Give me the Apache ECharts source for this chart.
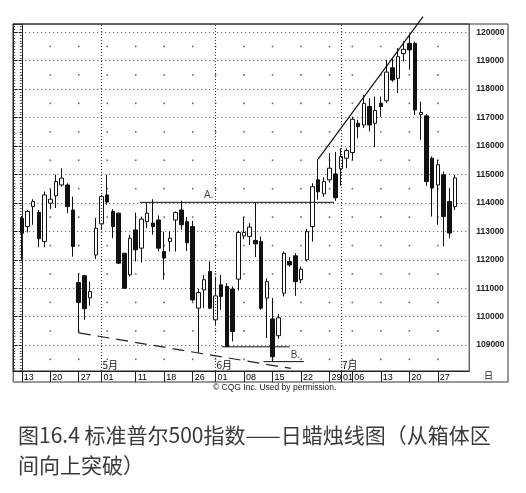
<!DOCTYPE html>
<html><head><meta charset="utf-8">
<script src="https://cdn.jsdelivr.net/npm/echarts@6/dist/echarts.min.js"></script>
<style>html,body{margin:0;padding:0;background:#fff}#c{width:526px;height:493px}</style>
</head><body><div id="c"></div>
<script>
// ---- data ----
const dates = [
 '1998-04-13','1998-04-14','1998-04-15','1998-04-16','1998-04-17','1998-04-20','1998-04-21','1998-04-22','1998-04-23','1998-04-24',
 '1998-04-27','1998-04-28','1998-04-29','1998-04-30','1998-05-01','1998-05-04','1998-05-05','1998-05-06','1998-05-07','1998-05-08',
 '1998-05-11','1998-05-12','1998-05-13','1998-05-14','1998-05-15','1998-05-18','1998-05-19','1998-05-20','1998-05-21','1998-05-22',
 '1998-05-26','1998-05-27','1998-05-28','1998-05-29','1998-06-01','1998-06-02','1998-06-03','1998-06-04','1998-06-05','1998-06-08',
 '1998-06-09','1998-06-10','1998-06-11','1998-06-12','1998-06-15','1998-06-16','1998-06-17','1998-06-18','1998-06-19','1998-06-22',
 '1998-06-23','1998-06-24','1998-06-25','1998-06-26','1998-06-29','1998-06-30','1998-07-01','1998-07-02','1998-07-06','1998-07-07',
 '1998-07-08','1998-07-09','1998-07-10','1998-07-13','1998-07-14','1998-07-15','1998-07-16','1998-07-17','1998-07-20','1998-07-21',
 '1998-07-22','1998-07-23','1998-07-24','1998-07-27','1998-07-28','1998-07-29','1998-07-30'
];
const opens = [
 113460,113170,113870,113670,112640,113990,114250,114630,114630,113750,
 111200,111440,110660,112170,113260,114280,113700,113640,112230,111470,
 113050,112410,113340,113290,113400,112290,112640,113400,113750,113340,
 113170,110300,110940,111590,109890,111120,111060,110970,111320,112840,
 112820,112680,112640,110650,109920,109330,110830,111940,112140,111300,
 112000,113170,114810,114320,114810,115020,115200,115570,115770,116800,
 116740,117390,116800,117500,117590,118750,118380,119250,119610,119610,
 117110,117060,115570,114630,114990,114050,113870
];
const closes = [
 112930,113700,114050,112740,114280,114130,114750,114870,113870,112470,
 110500,110280,110880,113110,114220,114030,113170,111880,111000,112760,
 112350,113430,113640,113170,112410,112060,112760,113660,113230,112600,
 110590,110850,111300,110300,110730,110710,108950,109480,112960,112960,
 113150,112560,110300,111230,108590,109960,112230,111820,111230,111670,
 112990,114570,114390,114750,115220,114180,115630,115840,116940,116680,
 117500,116740,117250,117390,118600,118320,119140,119400,119380,117270,
 117180,114750,114520,115340,113520,112940,114880
];
const lows = [
 112000,112960,113230,112440,112440,113790,113820,114570,113640,112110,
 109430,109890,110380,112030,113050,113930,112760,111860,110970,111410,
 111940,111900,113110,112880,112290,111300,112290,112290,113050,112310,
 110530,108730,110300,110270,109710,110240,108940,109130,110920,112720,
 112520,112100,110240,109250,108420,109220,110710,111760,110730,111180,
 111940,112640,114110,114210,114710,114070,114600,115220,115510,116270,
 116630,116510,115960,117030,117520,118260,117860,118970,118680,117090,
 116220,114600,113520,113230,112470,112760,113750
];
const highs = [
 113540,113750,114130,113750,114400,114480,114990,115220,114690,114220,
 111530,111470,111230,113470,114280,114990,113780,113660,112240,112880,
 113660,113520,113990,114130,113560,112990,112990,113700,114080,113510,
 113370,110980,111470,111940,111410,111470,111180,111060,113030,113500,
 113290,114030,112820,111350,110660,110100,112290,112090,112230,111760,
 113080,114690,115540,114900,115750,115790,115920,115920,117030,116920,
 117800,117680,117740,117740,119030,119090,119440,119690,119960,119670,
 117560,117130,115630,115510,115100,114520,114990
];
const tickDates = ['1998-04-13','1998-04-20','1998-04-27','1998-05-01','1998-05-11','1998-05-18','1998-05-26',
 '1998-06-01','1998-06-08','1998-06-15','1998-06-22','1998-06-29','1998-07-01','1998-07-06','1998-07-13','1998-07-20','1998-07-27'];
const weekStarts = ['1998-04-13','1998-04-20','1998-04-27','1998-05-04','1998-05-11','1998-05-18','1998-05-26',
 '1998-06-01','1998-06-08','1998-06-15','1998-06-22','1998-06-29','1998-07-06','1998-07-13','1998-07-20','1998-07-27'];
const monthStarts = ['1998-05-01','1998-06-01','1998-07-01'];
const monthLabels = ['5月','6月','7月'];
const halfLevels = [108500,109500,110500,111500,112500,113500,114500,115500,116500,117500,118500,119500];
// drawn lines, x in trading-day index (0 = 1998-04-13)
const lineA = [[20.7,114020],[54.8,114020]];
const upTrend = [[52,115540],[70.4,120550]];
const lowTrend = [[10,109430],[47.2,108180]];
const supportLine = [[35.1,108940],[47.0,108940]];
const lineB = [[42.4,108420],[49.5,108420]];
const labelA = [32.8,114020];
const labelB = [48.0,108420];
const yMin = 108090, yMax = 120290;
const captionText = '图16.4 标准普尔500指数——日蜡烛线图（从箱体区\n间向上突破）';
const creditText = '© CQG Inc. Used by permission.';

// ---- chart ----
const cats = ['pad0'].concat(dates, ['pad1','pad2']);
const chart = echarts.init(document.getElementById('c'), null, {renderer:'canvas'});
const F = "'Liberation Sans', Arial, sans-serif";
const lineSeries = (data, style, extra) => Object.assign({
  type:'line', xAxisIndex:1, yAxisIndex:0, data, symbol:'none', silent:true,
  lineStyle: Object.assign({color:'#111', width:1}, style), z:5, animation:false
}, extra || {});
const dots = [];
weekStarts.forEach(d => halfLevels.forEach(v => dots.push([d, v])));

chart.setOption({
  animation:false,
  title:[{text:captionText, left:13, top:415,
    textStyle:{fontFamily:"'Noto Sans CJK SC', sans-serif", fontSize:21, fontWeight:'normal', color:'#3a3a3a', lineHeight:30}}],
  grid:[
    {left:13.2, right:56.8, top:24, bottom:122, show:true, borderColor:'#222', borderWidth:1, backgroundColor:'transparent'},
    {left:13.2, right:18, top:24, bottom:111, show:true, borderColor:'#333', borderWidth:1, backgroundColor:'transparent'}
  ],
  xAxis:[
    {type:'category', gridIndex:0, data:cats, boundaryGap:true, position:'bottom',
     axisLine:{show:true, lineStyle:{color:'#222', width:1}},
     axisTick:{show:true, alignWithLabel:true, interval:(i,v)=>tickDates.includes(v), length:11, lineStyle:{color:'#222'}},
     axisLabel:{interval:(i,v)=>tickDates.includes(v), formatter:v=>v.slice(8), align:'left', padding:[0,0,0,2],
       margin:2, fontSize:9, color:'#000', fontFamily:F},
     splitLine:{show:false}},
    {type:'value', gridIndex:0, min:-1.5, max:78.5, show:false},
    {type:'category', gridIndex:0, data:cats, position:'bottom', offset:-11,
     axisLine:{show:false}, axisTick:{show:false}, splitLine:{show:false},
     axisLabel:{interval:(i,v)=>monthStarts.includes(v), formatter:v=>monthLabels[monthStarts.indexOf(v)] || '',
       align:'left', padding:[0,0,0,1], margin:0, fontSize:10, color:'#111', fontFamily:"'Noto Sans CJK SC', sans-serif"}},
    {type:'value', gridIndex:1, show:false}
  ],
  yAxis:[
    {type:'value', gridIndex:0, position:'right', min:yMin, max:yMax, minInterval:1000, maxInterval:1000,
     axisLine:{show:true, lineStyle:{color:'#222'}},
     axisTick:{show:true, inside:true, length:3, lineStyle:{color:'#222'}},
     minorTick:{show:true, splitNumber:10, length:2, lineStyle:{color:'#555'}},
     axisLabel:{margin:7, fontSize:8.5, fontWeight:'bold', color:'#222', fontFamily:F, align:'left',
       formatter:v=>(v % 1000 === 0 ? String(v) : '')},
     splitLine:{show:true, lineStyle:{color:'#555', type:[1,3], width:1}}},
    {type:'value', gridIndex:0, position:'left', min:yMin, max:yMax, minInterval:1000, maxInterval:1000,
     axisLine:{show:true, lineStyle:{color:'#222'}},
     axisTick:{show:true, inside:true, length:4, lineStyle:{color:'#222'}},
     minorTick:{show:true, splitNumber:10, length:2, lineStyle:{color:'#444'}},
     axisLabel:{show:false}, splitLine:{show:false}},
    {type:'value', gridIndex:1, show:false}
  ],
  series:[
    {type:'scatter', xAxisIndex:0, yAxisIndex:0, data:dots, symbol:'rect', symbolSize:1.6,
     itemStyle:{color:'#444'}, silent:true, z:1},
    {type:'candlestick', xAxisIndex:0, yAxisIndex:0,
     data:dates.map((d,i)=>[d, opens[i], closes[i], lows[i], highs[i]]),
     encode:{x:0, y:[1,2,3,4]}, barWidth:4,
     itemStyle:{color:'#ffffff', color0:'#111111', borderColor:'#111111', borderColor0:'#111111', borderWidth:1},
     markLine:{silent:true, symbol:['none','none'], label:{show:false},
       lineStyle:{color:'#333', type:[1,2], width:1},
       data:monthStarts.map(d=>({xAxis:d}))},
     z:4},
    lineSeries(lineA, {}),
    lineSeries(upTrend, {width:1.2}, {clip:false}),
    lineSeries(lowTrend, {width:1.2, type:[12,7], color:'#222'}),
    lineSeries(supportLine, {}),
    lineSeries(lineB, {}),
    {type:'scatter', xAxisIndex:1, yAxisIndex:0, data:[labelA], symbolSize:0, silent:true,
     label:{show:true, formatter:'A.', position:'top', distance:2, fontSize:10, color:'#111', fontFamily:F}},
    {type:'scatter', xAxisIndex:1, yAxisIndex:0, data:[labelB], symbolSize:0, silent:true,
     label:{show:true, formatter:'B.', position:'top', distance:1, fontSize:10, color:'#111', fontFamily:F}}
  ],
  graphic:[
    {type:'text', left:484, top:371, style:{text:'日', fontSize:9, fill:'#111', fontFamily:"'Noto Sans CJK SC', sans-serif"}},
    {type:'text', left:213, top:383, style:{text:creditText, fontSize:8.5, fill:'#222', fontFamily:F}}
  ]
});
</script></body></html>
